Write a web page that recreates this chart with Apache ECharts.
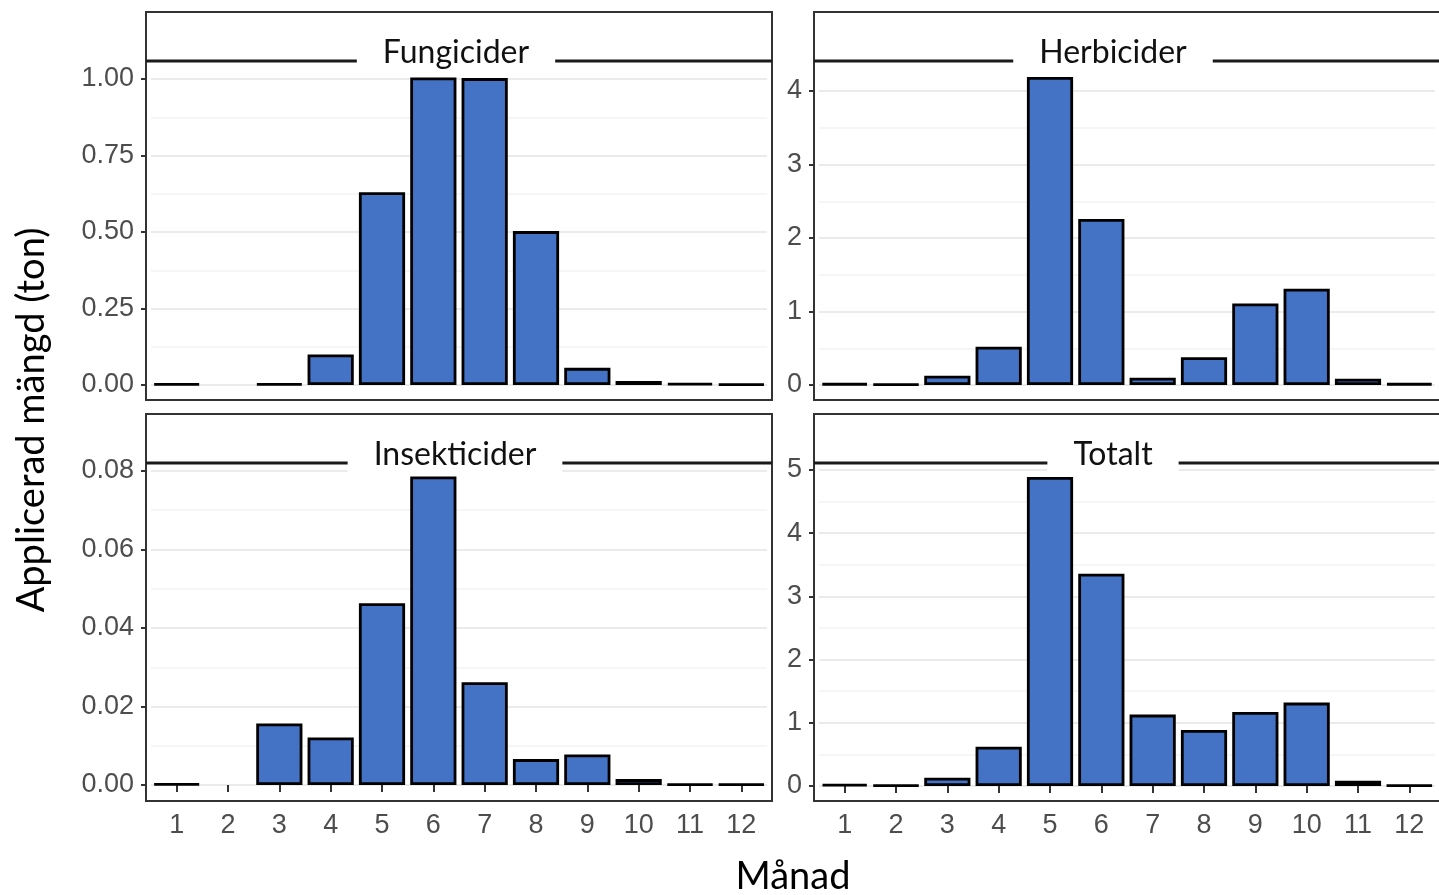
<!DOCTYPE html>
<html>
<head>
<meta charset="utf-8">
<script src="https://cdn.jsdelivr.net/npm/echarts@6/dist/echarts.min.js"></script>
<style>
html,body{margin:0;padding:0;background:#fff;}
#chart{width:1439px;height:895px;}
</style>
</head>
<body>
<div id="chart"></div>
<script>
// ---- data ----
var months = ['1','2','3','4','5','6','7','8','9','10','11','12'];
var panelTitles = ['Fungicider','Herbicider','Insekticider','Totalt'];
var fungicider   = [0.004, null, 0.004, 0.10, 0.63, 1.005, 1.003, 0.503, 0.056, 0.013, 0.006, 0.003];
var herbicider   = [0.02, 0.01, 0.127, 0.52, 4.19, 2.26, 0.10, 0.377, 1.11, 1.31, 0.086, 0.02];
var insekticider = [0.0003, null, 0.0157, 0.0121, 0.0463, 0.0786, 0.0262, 0.0066, 0.0078, 0.0015, 0.0002, 0.0002];
var totalt       = [0.03, 0.01, 0.13, 0.62, 4.89, 3.36, 1.13, 0.886, 1.17, 1.32, 0.084, 0.01];
var yMax      = [1, 4, 0.08, 5];
var yInterval = [0.25, 1, 0.02, 1];
var yDecimals = [2, 0, 2, 0];
var xTitle = 'Månad';
var yTitle = 'Applicerad mängd (ton)';

// ---- layout ----
var seriesData = [fungicider, herbicider, insekticider, totalt];
var grids = [
  {left:151, right:672, top:79,  bottom:510},
  {left:819, right:4,   top:91,  bottom:510},
  {left:151, right:672, top:471, bottom:110},
  {left:819, right:4,   top:470, bottom:109}
];
var panels = [
  {x:146, y:12,  w:626, h:388, strip:61,  tx:456,  ty:53},
  {x:814, y:12,  w:630, h:388, strip:61,  tx:1113, ty:53},
  {x:146, y:414, w:626, h:387, strip:463, tx:455,  ty:455},
  {x:814, y:414, w:630, h:387, strip:463, tx:1113, ty:455}
];
var xOffsets = [0, 0, 16, 15];

var labelFont = '"Liberation Sans", Arial, sans-serif';
var titleFont = 'Lato, "Open Sans", sans-serif';

var xAxes = [], yAxes = [], series = [], graphics = [];
for (var i = 0; i < 4; i++) {
  var bottomRow = i >= 2;
  xAxes.push({
    type:'category', gridIndex:i, data:months, boundaryGap:true,
    position:'bottom', offset:xOffsets[i],
    axisLine:{show:false},
    axisTick:{show:bottomRow, alignWithLabel:true, length:7, lineStyle:{color:'#333', width:2}},
    axisLabel:{show:bottomRow, color:'#4d4d4d', fontSize:27, fontFamily:labelFont, margin:11},
    splitLine:{show:false}
  });
  (function(d){
    yAxes.push({
      type:'value', gridIndex:i, min:0, max:yMax[i], interval:yInterval[i],
      offset:5,
      axisLine:{show:false},
      axisTick:{show:true, length:5, lineStyle:{color:'#333', width:2}},
      axisLabel:{color:'#4d4d4d', fontSize:27, fontFamily:labelFont, margin:12,
        formatter:function(v){ return v.toFixed(d); }},
      splitLine:{show:true, lineStyle:{color:'#ebebeb', width:2}},
      minorTick:{show:false, splitNumber:2},
      minorSplitLine:{show:true, lineStyle:{color:'#f4f4f4', width:1.5}}
    });
  })(yDecimals[i]);
  series.push({
    type:'bar', xAxisIndex:i, yAxisIndex:i, data:seriesData[i],
    barCategoryGap:'10%', clip:false,
    itemStyle:{color:'#4472c4', borderColor:'#000', borderWidth:2.8},
    emphasis:{disabled:true}, animation:false
  });
  var p = panels[i];
  graphics.push({type:'rect', z:5, silent:true,
    shape:{x:p.x, y:p.y, width:p.w, height:p.h},
    style:{fill:'none', stroke:'#333', lineWidth:2}});
  graphics.push({type:'line', z:6, silent:true,
    shape:{x1:p.x, y1:p.strip, x2:p.x + p.w, y2:p.strip},
    style:{stroke:'#1a1a1a', lineWidth:3}});
  graphics.push({type:'text', z:20, silent:true, x:p.tx, y:p.ty,
    style:{text:panelTitles[i], font:'32px ' + titleFont, fill:'#111',
      align:'center', verticalAlign:'middle', backgroundColor:'#fff', padding:[2,26,2,26]}});
}
graphics.push({type:'text', z:20, silent:true, x:793, y:877,
  style:{text:xTitle, font:'38px ' + titleFont, fill:'#000', align:'center', verticalAlign:'middle'}});
graphics.push({type:'text', z:20, silent:true, x:32, y:420, rotation:Math.PI/2,
  style:{text:yTitle, font:'38px ' + titleFont, fill:'#000', align:'center', verticalAlign:'middle'}});

var chart = echarts.init(document.getElementById('chart'), null, {renderer:'canvas'});
chart.setOption({
  animation:false,
  backgroundColor:'#fff',
  grid:grids,
  xAxis:xAxes,
  yAxis:yAxes,
  series:series,
  graphic:graphics
});
</script>
</body>
</html>
